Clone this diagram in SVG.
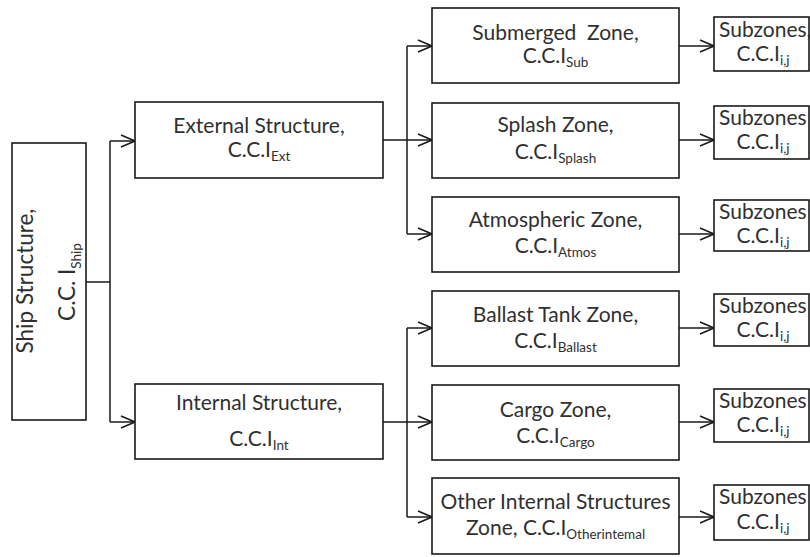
<svg xmlns="http://www.w3.org/2000/svg" width="810" height="557" viewBox="0 0 810 557">
  <defs>
    <style>
      .box { fill: #ffffff; stroke: #1a1a1a; stroke-width: 1.6; }
      .t { font-family: Lato, "Open Sans", "Liberation Sans", sans-serif; font-size: 21px; fill: #303030; text-anchor: middle; }
      .big { font-size: 22.5px; }
      .st { text-anchor: start; }
      .s { font-size: 13.5px; }
      .c { fill: none; stroke: #1a1a1a; stroke-width: 1.5; }
      .a { marker-end: url(#ah); }
    </style>
    <marker id="ah" markerUnits="userSpaceOnUse" markerWidth="16" markerHeight="14" refX="15" refY="7" orient="auto">
      <path d="M1,1 L15,7 L1,13" fill="none" stroke="#1a1a1a" stroke-width="1.5"/>
    </marker>
  </defs>
  <rect width="810" height="557" fill="#ffffff"/>

  <!-- connectors -->
  <g id="connectors">
    <path class="c" d="M86,282 H110 M110,141 V422"/>
    <path class="c a" d="M110,141 H135"/>
    <path class="c a" d="M110,422 H135"/>

    <path class="c" d="M383,140 H407 M407,46 V234"/>
    <path class="c a" d="M407,46 H432"/>
    <path class="c a" d="M407,140 H432"/>
    <path class="c a" d="M407,234 H432"/>

    <path class="c" d="M383,422 H407 M407,328 V517"/>
    <path class="c a" d="M407,328 H432"/>
    <path class="c a" d="M407,422 H432"/>
    <path class="c a" d="M407,517 H432"/>

    <path class="c a" d="M679,46 H714"/>
    <path class="c a" d="M679,140 H714"/>
    <path class="c a" d="M679,234 H714"/>
    <path class="c a" d="M679,328 H714"/>
    <path class="c a" d="M679,422 H714"/>
    <path class="c a" d="M679,517 H714"/>
  </g>

  <!-- root: whole ship -->
  <g id="ship">
    <rect class="box" x="12" y="143" width="74" height="277"/>
    <text class="t big" transform="translate(33,281) rotate(-90)">Ship Structure,</text>
    <text class="t big" transform="translate(75,282) rotate(-90)">C.C. I<tspan class="s" dy="6">Ship</tspan></text>
  </g>

  <!-- second level -->
  <g id="external">
    <rect class="box" x="135" y="102" width="248" height="76"/>
    <text class="t" x="259" y="133">External Structure,</text>
    <text class="t" x="259" y="157">C.C.I<tspan class="s" dy="4">Ext</tspan></text>
  </g>
  <g id="internal">
    <rect class="box" x="135" y="384" width="248" height="75"/>
    <text class="t" x="259" y="410">Internal Structure,</text>
    <text class="t" x="259" y="446">C.C.I<tspan class="s" dy="4">Int</tspan></text>
  </g>

  <!-- zones -->
  <g id="submerged">
    <rect class="box" x="432" y="8" width="247" height="75"/>
    <text class="t" x="555.5" y="40" xml:space="preserve">Submerged  Zone,</text>
    <text class="t" x="555.5" y="63">C.C.I<tspan class="s" dy="4">Sub</tspan></text>
  </g>
  <g id="splash">
    <rect class="box" x="432" y="103" width="247" height="75"/>
    <text class="t" x="555.5" y="132">Splash Zone,</text>
    <text class="t" x="555.5" y="159">C.C.I<tspan class="s" dy="4">Splash</tspan></text>
  </g>
  <g id="atmospheric">
    <rect class="box" x="432" y="197" width="247" height="75"/>
    <text class="t" x="555.5" y="227">Atmospheric Zone,</text>
    <text class="t" x="555.5" y="253">C.C.I<tspan class="s" dy="4">Atmos</tspan></text>
  </g>
  <g id="ballast">
    <rect class="box" x="432" y="291" width="247" height="75"/>
    <text class="t" x="555.5" y="322">Ballast Tank Zone,</text>
    <text class="t" x="555.5" y="348">C.C.I<tspan class="s" dy="4">Ballast</tspan></text>
  </g>
  <g id="cargo">
    <rect class="box" x="432" y="385" width="247" height="75"/>
    <text class="t" x="555.5" y="417">Cargo Zone,</text>
    <text class="t" x="555.5" y="443">C.C.I<tspan class="s" dy="4">Cargo</tspan></text>
  </g>
  <g id="other">
    <rect class="box" x="432" y="478" width="247" height="76"/>
    <text class="t" x="555.5" y="509">Other Internal Structures</text>
    <text class="t" x="555.5" y="535">Zone, C.C.I<tspan class="s" dy="4">Otherintemal</tspan></text>
  </g>

  <!-- subzones -->
  <g id="sub1">
    <rect class="box" x="714" y="17" width="95" height="54"/>
    <text class="t st" x="719" y="37">Subzones,</text>
    <text class="t" x="763" y="61">C.C.I<tspan class="s" dy="4">i,j</tspan></text>
  </g>
  <g id="sub2">
    <rect class="box" x="714" y="106" width="95" height="53"/>
    <text class="t st" x="719" y="125">Subzones</text>
    <text class="t" x="763" y="149">C.C.I<tspan class="s" dy="4">i,j</tspan></text>
  </g>
  <g id="sub3">
    <rect class="box" x="714" y="200" width="95" height="51"/>
    <text class="t st" x="719" y="219">Subzones</text>
    <text class="t" x="763" y="243">C.C.I<tspan class="s" dy="4">i,j</tspan></text>
  </g>
  <g id="sub4">
    <rect class="box" x="714" y="294" width="95" height="52"/>
    <text class="t st" x="719" y="313">Subzones</text>
    <text class="t" x="763" y="337">C.C.I<tspan class="s" dy="4">i,j</tspan></text>
  </g>
  <g id="sub5">
    <rect class="box" x="714" y="389" width="95" height="53"/>
    <text class="t st" x="719" y="408">Subzones</text>
    <text class="t" x="763" y="432">C.C.I<tspan class="s" dy="4">i,j</tspan></text>
  </g>
  <g id="sub6">
    <rect class="box" x="714" y="485" width="95" height="55"/>
    <text class="t st" x="719" y="504">Subzones</text>
    <text class="t" x="763" y="529">C.C.I<tspan class="s" dy="4">i,j</tspan></text>
  </g>
</svg>
